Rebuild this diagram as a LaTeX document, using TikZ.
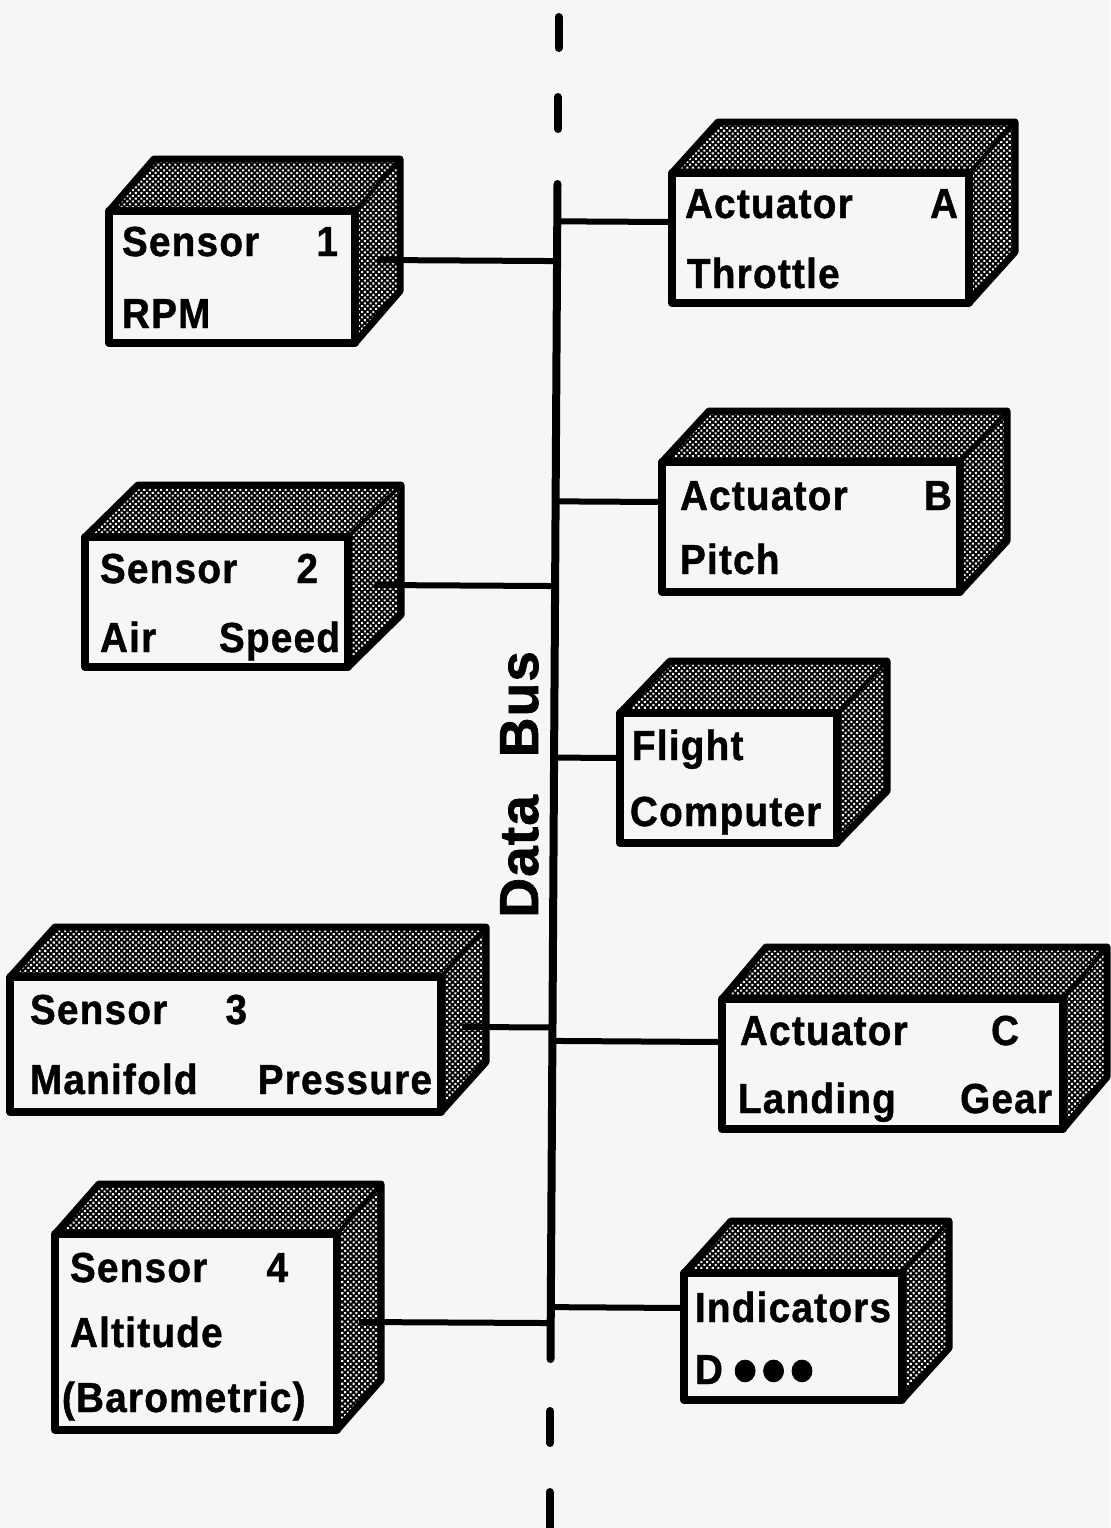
\documentclass[tikz,border=0pt]{standalone}
\usepackage{fontspec}
\usetikzlibrary{patterns.meta,calc}
\newfontfamily\lblfamily{Liberation Sans}[LetterSpace=3.0, FakeStretch=0.92, FakeBold=1.0]
\newfontfamily\busfamily{Liberation Sans}[LetterSpace=2.0, FakeBold=1.2]
\definecolor{paper}{gray}{0.965}
\newcommand\lblfont{\lblfamily\bfseries\fontsize{21}{21}\selectfont}
\newcommand\busfont{\busfamily\bfseries\fontsize{27.5}{27.5}\selectfont}
\tikzset{
  facefill/.style={preaction={fill=black}, pattern={Dots[radius=0.72pt,distance=2pt,angle=45]}, pattern color=paper},
  cubeedge/.style={line width=3.5pt, line join=round, line cap=round},
  cubeinner/.style={line width=2pt, line cap=round},
  frontface/.style={draw, fill=paper, line width=4pt, line join=round, inner sep=0pt, outer sep=0pt},
  lbl/.style={inner sep=0pt, outer sep=0pt, font=\lblfont},
  conn/.style={line width=3pt},
  busline/.style={line width=4pt, line cap=round},
}
% #1 name, #2 L, #3 T, #4 R, #5 B, #6 dx, #7 dy (up)
\newcommand\mkcube[7]{%
  \path[facefill] (#2,#3) -- (#2+#6,#3-#7) -- (#4+#6,#3-#7) -- (#4+#6,#5-#7) -- (#4,#5) -- (#4,#3) -- cycle;
  \draw[cubeedge] (#2,#3) -- (#2+#6,#3-#7) -- (#4+#6,#3-#7) -- (#4+#6,#5-#7) -- (#4,#5);
  \draw[cubeinner] (#4,#3) -- (#4+#6,#3-#7);
  \node[frontface, anchor=north west, minimum width={(#4-#2)*0.5pt}, minimum height={(#5-#3)*0.5pt}] (#1) at (#2,#3) {};
}
\begin{document}
\begin{tikzpicture}[x=0.5pt,y=-0.5pt]
\fill[paper] (0,0) rectangle (1110,1528);
\useasboundingbox (0,0) rectangle (1110,1528);

% data bus
\coordinate (busA) at (557.5,184);
\coordinate (busB) at (550.5,1359);
\draw[busline] (busA) -- (busB);
\coordinate (busT1a) at (558.5,17); \coordinate (busT1b) at (558.5,48);
\coordinate (busT2a) at (558,97);   \coordinate (busT2b) at (558,129);
\coordinate (busB1a) at (550,1411); \coordinate (busB1b) at (550,1443);
\coordinate (busB2a) at (549.5,1492); \coordinate (busB2b) at (549.5,1540);
\draw[busline] (busT1a) -- (busT1b);
\draw[busline] (busT2a) -- (busT2b);
\draw[busline] (busB1a) -- (busB1b);
\draw[busline] (busB2a) -- (busB2b);
\node[inner sep=0pt, font=\busfont, rotate=90, anchor=base west] (buslbl) at (538,918) {Data\hspace{19pt}Bus};

% boxes
\mkcube{s1}{109}{211}{355}{343}{45}{52}
\mkcube{aa}{672}{173}{969}{303}{46}{51}
\mkcube{ab}{662}{462}{960}{592}{47}{51}
\mkcube{s2}{85}{537}{348}{667}{53}{52}
\mkcube{fc}{620}{713}{837}{843}{50}{52}
\mkcube{s3}{10}{977}{441}{1112}{45}{50}
\mkcube{ac}{722}{999}{1063}{1129}{44}{52}
\mkcube{s4}{55}{1234}{337}{1430}{44}{50}
\mkcube{ind}{684}{1273}{902}{1400}{47}{52}

% ports
\coordinate (s1p) at (377,260);
\coordinate (aap) at (672,222);
\coordinate (abp) at (662,502);
\coordinate (s2p) at (375,585);
\coordinate (fcp) at (620,758);
\coordinate (s3p) at (463,1027);
\coordinate (acp) at (722,1042);
\coordinate (s4p) at (359,1322);
\coordinate (indp) at (684,1308);
\foreach \p in {s1p,aap,abp,s2p,fcp,s3p,acp,s4p,indp}
  \draw[conn] (\p) -- ($(busA)!(\p)!(busB)$);

% labels
\node[lbl, anchor=base west] (s1a) at (122,256) {Sensor};
\node[lbl, anchor=base east] (s1b) at (338,256) {1};
\node[lbl, anchor=base west] (s1c) at (122,328) {RPM};

\node[lbl, anchor=base west] (aaa) at (685,218) {Actuator};
\node[lbl, anchor=base east] (aab) at (958,218) {A};
\node[lbl, anchor=base west] (aac) at (687,288) {Throttle};

\node[lbl, anchor=base west] (aba) at (680,510) {Actuator};
\node[lbl, anchor=base east] (abb) at (952,510) {B};
\node[lbl, anchor=base west] (abc) at (680,574) {Pitch};

\node[lbl, anchor=base west] (s2a) at (100,583) {Sensor};
\node[lbl, anchor=base east] (s2b) at (318,583) {2};
\node[lbl, anchor=base west] (s2c) at (100,652) {Air};
\node[lbl, anchor=base east] (s2d) at (340,652) {Speed};

\node[lbl, anchor=base west] (fca) at (632,760) {Flight};
\node[lbl, anchor=base west] (fcb) at (630,826) {Computer};

\node[lbl, anchor=base west] (s3a) at (30,1024) {Sensor};
\node[lbl, anchor=base east] (s3b) at (247,1024) {3};
\node[lbl, anchor=base west] (s3c) at (30,1094) {Manifold};
\node[lbl, anchor=base east] (s3d) at (432,1094) {Pressure};

\node[lbl, anchor=base west] (aca) at (740,1045) {Actuator};
\node[lbl, anchor=base east] (acb) at (1019,1045) {C};
\node[lbl, anchor=base west] (acc) at (738,1113) {Landing};
\node[lbl, anchor=base east] (acd) at (1052,1113) {Gear};

\node[lbl, anchor=base west] (s4a) at (70,1282) {Sensor};
\node[lbl, anchor=base east] (s4b) at (288,1282) {4};
\node[lbl, anchor=base west] (s4c) at (70,1347) {Altitude};
\node[lbl, anchor=base west] (s4d) at (62,1412) {(Barometric)};

\node[lbl, anchor=base west] (inda) at (695,1322) {Indicators};
\node[lbl, anchor=base west] (indb) at (695,1384) {D\hspace{5pt}\raisebox{-6pt}{\fontsize{38}{38}\selectfont •\hspace{2pt}•\hspace{2pt}•}};
\end{tikzpicture}
\end{document}
